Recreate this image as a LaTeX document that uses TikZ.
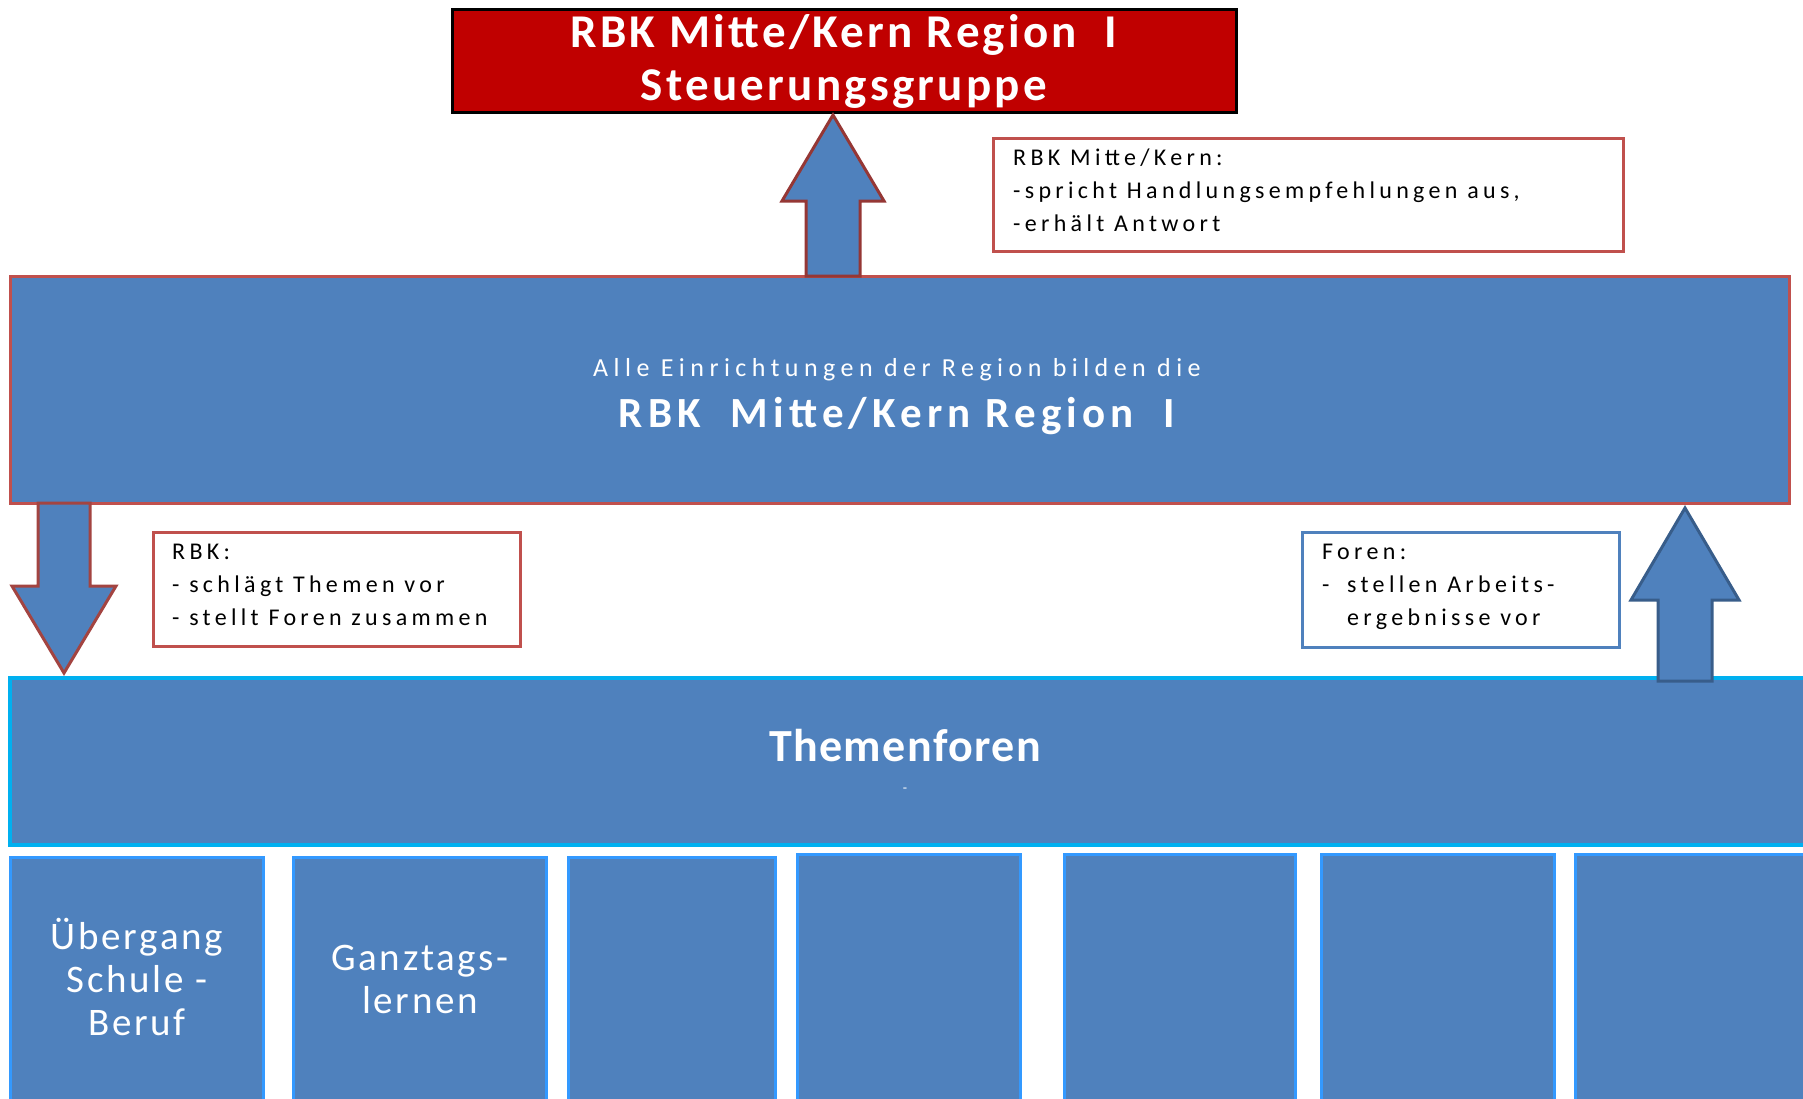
\documentclass[tikz,border=0pt]{standalone}
\usepackage{fontspec}
\setmainfont{Carlito}
\usetikzlibrary{calc}
\definecolor{boxblue}{HTML}{4F81BD}
\definecolor{boxred}{HTML}{C0504D}
\definecolor{darkred}{HTML}{C00000}
\definecolor{cyanb}{HTML}{00B0F0}
\definecolor{lightb}{HTML}{3399FF}
\definecolor{arrowblue}{HTML}{385D8A}
\definecolor{arrowred}{HTML}{953735}
\begin{document}
\begin{tikzpicture}[x=1pt,y=-1pt,
  box/.style={anchor=north west, inner sep=0pt, outer sep=0pt, line width=3pt},
  bluebox/.style={box, fill=boxblue},
  notebox/.style={box, fill=white},
  column/.style={bluebox, draw=lightb, minimum height=260pt},
  blockarrow/.style={fill=boxblue, line width=3pt, line join=miter},
  notetext/.style={anchor=north west, inner sep=0pt, align=left, text=black,
    font=\fontsize{24}{33}\selectfont\addfontfeature{LetterSpace=18}},
  whitetext/.style={text=white, inner sep=0pt, align=center},
  coltext/.style={whitetext, font=\fontsize{39}{43}\selectfont\addfontfeature{LetterSpace=7}}
]
\useasboundingbox (0,0) rectangle (1803,1098);
\clip (0,0) rectangle (1803,1098);

% top steering group
\node[box, draw=black, fill=darkred, minimum width=784pt, minimum height=103pt] (steuer) at (452,9) {};
\node[whitetext, font=\fontsize{47}{53}\selectfont\bfseries\addfontfeature{LetterSpace=7}] (steuertext) at (844,61) {RBK Mitte/Kern Region \ I\\Steuerungsgruppe};

% middle region box
\node[bluebox, draw=boxred, minimum width=1779pt, minimum height=227pt] (mid) at (10,276) {};
\node[whitetext, font=\fontsize{26}{30}\selectfont\addfontfeature{LetterSpace=21}] (midtext1) at (897,370) {Alle Einrichtungen der Region bilden die};
\node[whitetext, font=\fontsize{43}{48}\selectfont\bfseries\addfontfeature{LetterSpace=12}] (midtext2) at (897,416) {RBK \ Mitte/Kern Region \ I};

% note boxes
\node[notebox, draw=boxred, minimum width=630pt, minimum height=113pt] (note1) at (993,138) {};
\node[notetext] (note1text) at (1013,149) {RBK Mitte/Kern:\\-spricht Handlungsempfehlungen aus,\\-erhält Antwort};

\node[notebox, draw=boxred, minimum width=367pt, minimum height=114pt] (note2) at (153,532) {};
\node[notetext] (note2text) at (172,544) {RBK:\\- schlägt Themen vor\\- stellt Foren zusammen};

\node[notebox, draw=boxblue, minimum width=317pt, minimum height=115pt] (note3) at (1302,532) {};
\node[notetext] (note3text) at (1322,544) {Foren:\\\makebox[25pt][l]{-}stellen Arbeits-\\\hspace*{25pt}ergebnisse vor};

% Themenforen
\node[bluebox, draw=cyanb, line width=4pt, minimum width=1810pt, minimum height=167pt] (foren) at (10,678) {};
\node[whitetext, font=\fontsize{46}{52}\selectfont\bfseries\addfontfeature{LetterSpace=3}] (forentext) at (905,746) {Themenforen};
\node[whitetext, font=\fontsize{14}{16}\selectfont] (forendot) at (905,790) {-};

% columns
\node[column, minimum width=253pt] (c1) at (10,857) {};
\node[column, minimum width=253pt] (c2) at (293,857) {};
\node[column, minimum width=207pt] (c3) at (568,857) {};
\node[column, minimum width=223pt] (c4) at (797,854) {};
\node[column, minimum width=231pt] (c5) at (1064,854) {};
\node[column, minimum width=233pt] (c6) at (1321,854) {};
\node[column, minimum width=240pt] (c7) at (1575,854) {};
\node[coltext] (c1text) at (137,977) {Übergang\\Schule -\\Beruf};
\node[coltext] (c2text) at (420,979) {Ganztags-\\lernen};

% arrows
\coordinate (upAbase) at (mid.north -| 833,0);
\coordinate (upAtip) at ($(steuer.south -| 833,0)+(0,3)$);
\draw[blockarrow, draw=arrowred]
  ($(upAbase)+(-27,0)$) -- ($(upAtip)+(-27,86)$) -- ($(upAtip)+(-51,86)$) -- (upAtip)
  -- ($(upAtip)+(51,86)$) -- ($(upAtip)+(27,86)$) -- ($(upAbase)+(27,0)$) -- cycle;

\coordinate (downBbase) at (mid.south -| 64,0);
\coordinate (downBtip) at (64,673);
\draw[blockarrow, draw=boxred!85!black]
  ($(downBbase)+(-26,0)$) -- ($(downBtip)+(-26,-87)$) -- ($(downBtip)+(-52,-87)$) -- (downBtip)
  -- ($(downBtip)+(52,-87)$) -- ($(downBtip)+(26,-87)$) -- ($(downBbase)+(26,0)$) -- cycle;

\coordinate (upCbase) at ($(foren.north -| 1685,0)+(0,3)$);
\coordinate (upCtip) at (1685,508);
\draw[blockarrow, draw=arrowblue]
  ($(upCbase)+(-27,0)$) -- ($(upCtip)+(-27,92)$) -- ($(upCtip)+(-54,92)$) -- (upCtip)
  -- ($(upCtip)+(54,92)$) -- ($(upCtip)+(27,92)$) -- ($(upCbase)+(27,0)$) -- cycle;
\end{tikzpicture}
\end{document}
